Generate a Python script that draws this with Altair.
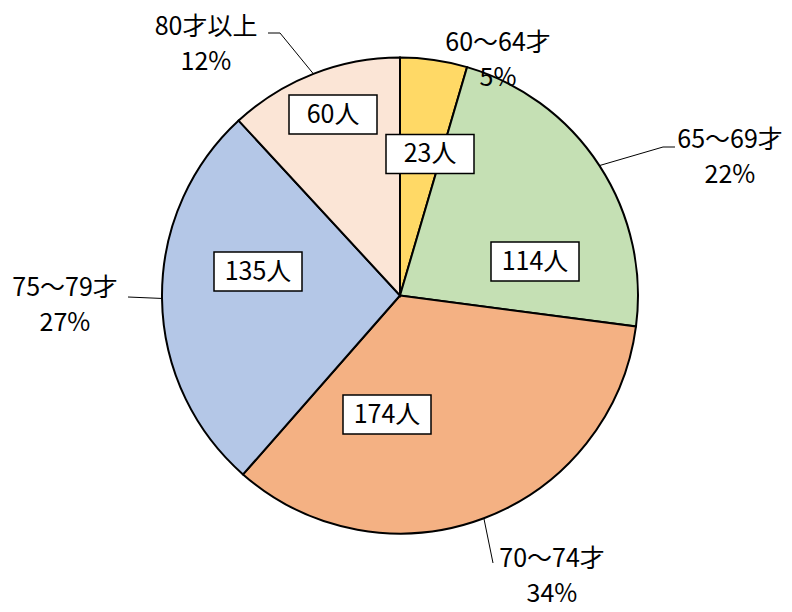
import altair as alt
import pandas as pd
import numpy as np

# ---- data ----
categories = ["60〜64才", "65〜69才", "70〜74才", "75〜79才", "80才以上"]
counts = [23, 114, 174, 135, 60]
percent_labels = ["5%", "22%", "34%", "27%", "12%"]
count_labels = [f"{c}人" for c in counts]

# ---- style / layout ----
colors = ["#FFD966", "#C5E0B4", "#F4B183", "#B4C7E7", "#FBE5D6"]
FONT = "Noto Sans CJK JP"
FS = 25
CX, CY, R = 392, 287.5, 238          # pie centre / radius (chart pixels)
BOX_W, BOX_H = 88, 39
# label placements relative to the pie centre
box_offsets = [(30, -141.5), (135, -34), (-13, 119), (-142, -24), (-67, -181)]
label_offsets = [(98, -252.5), (330, -155.5), (152, 263.5), (-335, -7.5), (-194, -268.5)]
leader_bends = [
    [],
    [(263, -148.5), (275, -148.5)],
    [(93, 267.5)],
    [(-272, 1.5)],
    [(-120, -262.5), (-132, -262.5)],
]

total = sum(counts)
cum = np.cumsum(counts)
start = cum - np.array(counts)
mid = (start + np.array(counts) / 2) / total * 2 * np.pi

df = pd.DataFrame({
    "cat": categories,
    "count": counts,
    "idx": list(range(len(categories))),
    "clabel": count_labels,
    "plabel": percent_labels,
    "bx": [CX + o[0] for o in box_offsets],
    "by": [CY + o[1] for o in box_offsets],
    "lx": [CX + o[0] for o in label_offsets],
    "ly": [CY + o[1] for o in label_offsets],
})
df["bx1"] = df["bx"] - BOX_W / 2
df["bx2"] = df["bx"] + BOX_W / 2
df["by1"] = df["by"] - BOX_H / 2
df["by2"] = df["by"] + BOX_H / 2
df["ly2"] = df["ly"] + 35

rows = []
for i, bends in enumerate(leader_bends):
    if not bends:
        continue
    rows.append({"cat": categories[i], "pt": 0,
                 "x": CX + R * np.sin(mid[i]), "y": CY - R * np.cos(mid[i])})
    for j, (dx, dy) in enumerate(bends):
        rows.append({"cat": categories[i], "pt": j + 1, "x": CX + dx, "y": CY + dy})
leaders = pd.DataFrame(rows)

pie = alt.Chart(df).mark_arc(outerRadius=R, stroke="black", strokeWidth=2).encode(
    theta=alt.Theta("count:Q", stack=True),
    color=alt.Color("cat:N", scale=alt.Scale(domain=categories, range=colors), legend=None),
    order=alt.Order("idx:Q"),
    x=alt.value(CX),
    y=alt.value(CY),
)

lines = alt.Chart(leaders).mark_line(color="black", strokeWidth=1).encode(
    x=alt.X("x:Q", scale=None),
    y=alt.Y("y:Q", scale=None),
    detail="cat:N",
    order="pt:Q",
)

boxes = alt.Chart(df).mark_rect(fill="white", stroke="black", strokeWidth=1.5).encode(
    x=alt.X("bx1:Q", scale=None), x2="bx2:Q",
    y=alt.Y("by1:Q", scale=None), y2="by2:Q",
)

box_text = alt.Chart(df).mark_text(font=FONT, fontSize=FS, color="black",
                                   align="center", baseline="middle").encode(
    x=alt.X("bx:Q", scale=None), y=alt.Y("by:Q", scale=None), text="clabel:N",
)

name_text = alt.Chart(df).mark_text(font=FONT, fontSize=FS, color="black",
                                    align="center", baseline="middle").encode(
    x=alt.X("lx:Q", scale=None), y=alt.Y("ly:Q", scale=None), text="cat:N",
)

pct_text = alt.Chart(df).mark_text(font=FONT, fontSize=FS, color="black",
                                   align="center", baseline="middle").encode(
    x=alt.X("lx:Q", scale=None), y=alt.Y("ly2:Q", scale=None), text="plabel:N",
)

chart = alt.layer(pie, lines, boxes, box_text, name_text, pct_text).properties(
    width=776, height=596, autosize="none", padding=0,
).configure_view(stroke=None)

chart.save("out.html", embed_options={"renderer": "svg", "actions": False})
